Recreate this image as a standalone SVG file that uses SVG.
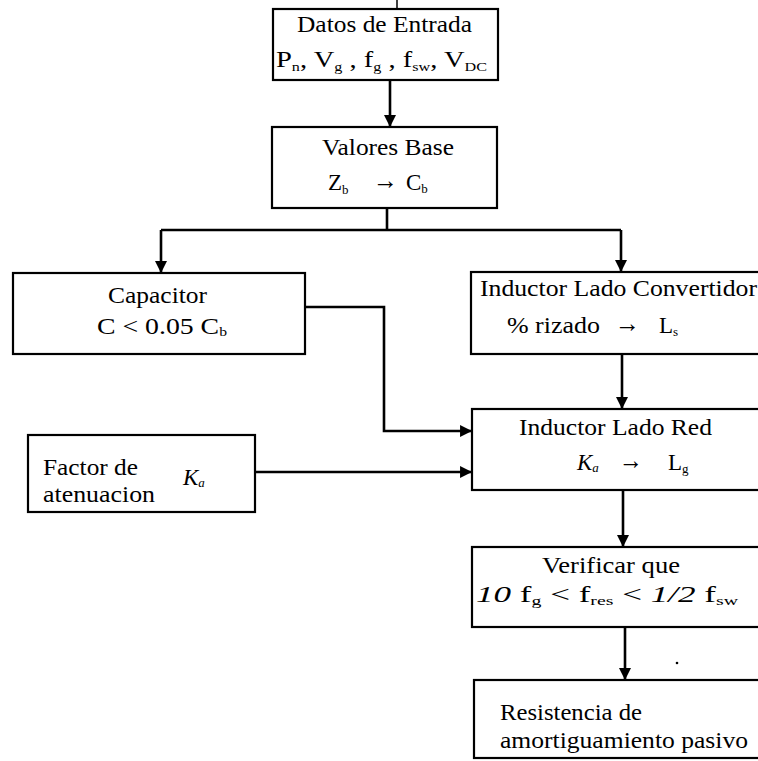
<svg xmlns="http://www.w3.org/2000/svg" width="758" height="761" viewBox="0 0 758 761">
<style>
.box{fill:#fff;stroke:#000;stroke-width:2.2}
text{font-family:"Liberation Serif","Tinos","DejaVu Serif","Times New Roman",serif;font-size:23px;fill:#000}
.s{font-size:13px}
.i{font-style:italic}
.ar{font-size:26px;font-weight:bold}
.c{fill:none;stroke:#000;stroke-width:2.6}
</style>
<defs>
<marker id="ah" viewBox="0 0 10 10" refX="10" refY="5" markerWidth="5" markerHeight="4.6" markerUnits="strokeWidth" orient="auto">
<path d="M0,0 L10,5 L0,10 z" fill="#000"/>
</marker>
</defs>
<rect width="758" height="761" fill="#fff"/>
<g id="connectors">
<line class="c" x1="397" y1="0" x2="397" y2="9" style="stroke-width:1.5"/>
<path class="c" d="M390,80 V127" marker-end="url(#ah)"/>
<path class="c" d="M387,208 V230"/>
<path class="c" d="M161,230 H621"/>
<path class="c" d="M161,230 V273" marker-end="url(#ah)"/>
<path class="c" d="M621,230 V272" marker-end="url(#ah)"/>
<path class="c" d="M305,307 H384 V431 H472" marker-end="url(#ah)"/>
<path class="c" d="M622,354 V409" marker-end="url(#ah)"/>
<path class="c" d="M255,472 H472" marker-end="url(#ah)"/>
<path class="c" d="M623,490 V547" marker-end="url(#ah)"/>
<path class="c" d="M625,627 V680" marker-end="url(#ah)"/>
</g>
<g id="datos">
<rect class="box" x="273" y="9" width="225" height="71"/>
<text x="297" y="32" textLength="175" lengthAdjust="spacingAndGlyphs">Datos de Entrada</text>
<text x="276" y="67" textLength="211" lengthAdjust="spacingAndGlyphs">P<tspan class="s" dy="4">n</tspan><tspan dy="-4">, V</tspan><tspan class="s" dy="4">g</tspan><tspan dy="-4"> , f</tspan><tspan class="s" dy="4">g</tspan><tspan dy="-4"> ,  f</tspan><tspan class="s" dy="4">sw</tspan><tspan dy="-4">, V</tspan><tspan class="s" dy="4">DC</tspan></text>
</g>
<g id="valores">
<rect class="box" x="272" y="127" width="225" height="81"/>
<text x="322" y="155" textLength="132" lengthAdjust="spacingAndGlyphs">Valores Base</text>
<text x="328" y="190">Z<tspan class="s" dy="4">b</tspan></text>
<text class="ar" x="373" y="189" textLength="25" lengthAdjust="spacingAndGlyphs">→</text>
<text x="406" y="190">C<tspan class="s" dy="3">b</tspan></text>
</g>
<g id="capacitor">
<rect class="box" x="13" y="273" width="292" height="81"/>
<text x="108" y="303" textLength="99" lengthAdjust="spacingAndGlyphs">Capacitor</text>
<text x="97" y="334" textLength="130" lengthAdjust="spacingAndGlyphs">C &lt; 0.05 C<tspan class="s" dy="2">b</tspan></text>
</g>
<g id="conv">
<rect class="box" x="471" y="272" width="292" height="82"/>
<text x="480" y="296" textLength="277" lengthAdjust="spacingAndGlyphs">Inductor Lado Convertidor</text>
<text x="507" y="333" textLength="93" lengthAdjust="spacingAndGlyphs">% rizado</text>
<text class="ar" x="615" y="332" textLength="25" lengthAdjust="spacingAndGlyphs">→</text>
<text x="659" y="333">L<tspan class="s" dy="3">s</tspan></text>
</g>
<g id="factor">
<rect class="box" x="28" y="435" width="227" height="77"/>
<text x="43" y="475" textLength="95" lengthAdjust="spacingAndGlyphs">Factor de</text>
<text x="43" y="502" textLength="112" lengthAdjust="spacingAndGlyphs">atenuacion</text>
<text class="i" x="183" y="485">K<tspan class="s" dy="2">a</tspan></text>
</g>
<g id="red">
<rect class="box" x="472" y="409" width="291" height="81"/>
<text x="519" y="435" textLength="193" lengthAdjust="spacingAndGlyphs">Inductor Lado Red</text>
<text class="i" x="577" y="470">K<tspan class="s" dy="2">a</tspan></text>
<text class="ar" x="619" y="469" textLength="24" lengthAdjust="spacingAndGlyphs">→</text>
<text x="668" y="470">L<tspan class="s" dy="3">g</tspan></text>
</g>
<g id="verificar">
<rect class="box" x="472" y="547" width="291" height="80"/>
<text x="542" y="573" textLength="138" lengthAdjust="spacingAndGlyphs">Verificar que</text>
<text x="476" y="602" textLength="262" lengthAdjust="spacingAndGlyphs"><tspan class="i">10</tspan> f<tspan class="s" dy="3">g</tspan><tspan dy="-3">  &lt;  f</tspan><tspan class="s" dy="3">res</tspan><tspan dy="-3">  &lt;  </tspan><tspan class="i">1/2</tspan> f<tspan class="s" dy="3">sw</tspan></text>
</g>
<g id="resistencia">
<rect class="box" x="474" y="680" width="289" height="78"/>
<text x="500" y="720" textLength="142" lengthAdjust="spacingAndGlyphs">Resistencia de</text>
<text x="500" y="748" textLength="248" lengthAdjust="spacingAndGlyphs">amortiguamiento pasivo</text>
</g>
<circle cx="677" cy="663" r="1.3" fill="#000"/>
</svg>
